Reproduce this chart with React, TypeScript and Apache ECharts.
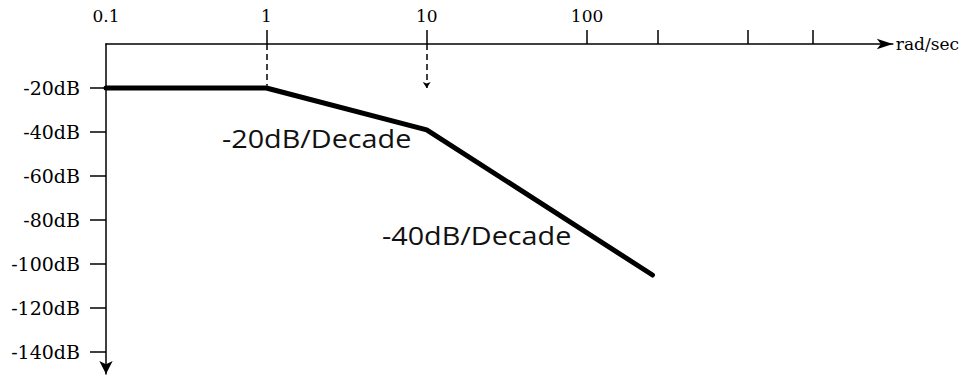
import React, { useEffect, useRef } from "react";
import * as echarts from "echarts";

// Asymptotic Bode magnitude: corner points (rad/sec, dB)
const freq = [0.1, 1, 10, 256];
const gainDb = [-20, -20, -39, -105];

// Axis ticks / labels
const xLabelValues = [0.1, 1, 10, 100];
const xTickValues = [1, 10, 100, 276, 1000, 2570];
const yTickValues = [-20, -40, -60, -80, -100, -120, -140];

// Dashed guides from the axis down to the corner frequencies
const guideFreqs = [1, 10];
const guideEndDb = [-19, -20];

const slopeTexts = ["-20dB/Decade", "-40dB/Decade"];

const SERIF = "DejaVu Serif";

export default function App() {
  const ref = useRef<HTMLDivElement>(null);

  useEffect(() => {
    if (!ref.current) return;
    const chart = echarts.init(ref.current, null, { renderer: "svg" });

    const option: any = {
      animation: false,
      backgroundColor: "#ffffff",
      grid: { left: 106, right: 67, top: 44, bottom: 2, containLabel: false },
      xAxis: {
        type: "log",
        position: "top",
        min: 0.1,
        max: 8070,
        name: "rad/sec",
        nameLocation: "end",
        nameGap: 3,
        nameTextStyle: { fontFamily: SERIF, fontSize: 17, color: "#000", verticalAlign: "middle" },
        axisLine: {
          show: true,
          onZero: false,
          symbol: ["none", "arrow"],
          symbolSize: [8, 16],
          lineStyle: { color: "#000", width: 1.5 },
        },
        axisTick: {
          show: true,
          inside: false,
          length: 14,
          customValues: xTickValues,
          lineStyle: { color: "#000", width: 1.5 },
        },
        axisLabel: {
          show: true,
          margin: 20,
          customValues: xLabelValues,
          fontFamily: SERIF,
          fontSize: 17,
          color: "#000",
          formatter: (v: number) => String(+Number(v).toPrecision(3)),
        },
        splitLine: { show: false },
        minorTick: { show: false },
      },
      yAxis: {
        type: "value",
        min: -150,
        max: 0,
        axisLine: {
          show: true,
          onZero: false,
          symbol: ["arrow", "none"],
          symbolSize: [10, 13],
          lineStyle: { color: "#000", width: 1.5 },
        },
        axisTick: {
          show: true,
          inside: false,
          length: 16,
          customValues: yTickValues,
          lineStyle: { color: "#000", width: 1.5 },
        },
        axisLabel: {
          show: true,
          margin: 26,
          customValues: yTickValues,
          fontFamily: SERIF,
          fontSize: 19,
          color: "#000",
          formatter: (v: number) => `${v}dB`,
        },
        splitLine: { show: false },
      },
      series: [
        {
          type: "line",
          data: freq.map((f, i) => [f, gainDb[i]]),
          symbol: "none",
          lineStyle: { color: "#000", width: 5, cap: "round", join: "round" },
          silent: true,
          markLine: {
            silent: true,
            symbol: "none",
            label: { show: false },
            lineStyle: { color: "#000", width: 1.5, type: [6, 4] },
            data: guideFreqs.map((f, i) => [
              { coord: [f, 0], symbol: "none" },
              {
                coord: [f, guideEndDb[i]],
                symbol: i === 1 ? "arrow" : "none",
                symbolSize: 6,
              },
            ]),
          },
        },
      ],
      graphic: [
        {
          type: "text",
          left: 222,
          top: 126,
          scaleX: 1.15,
          style: {
            text: slopeTexts[0],
            font: "25px 'Open Sans'",
            fill: "#111",
          },
        },
        {
          type: "text",
          left: 382,
          top: 223,
          scaleX: 1.15,
          style: {
            text: slopeTexts[1],
            font: "25px 'Open Sans'",
            fill: "#111",
          },
        },
      ],
    };

    chart.setOption(option);
    return () => chart.dispose();
  }, []);

  return (
    <div
      ref={ref}
      style={{ position: "fixed", left: 0, top: 0, width: 962, height: 376 }}
    />
  );
}
